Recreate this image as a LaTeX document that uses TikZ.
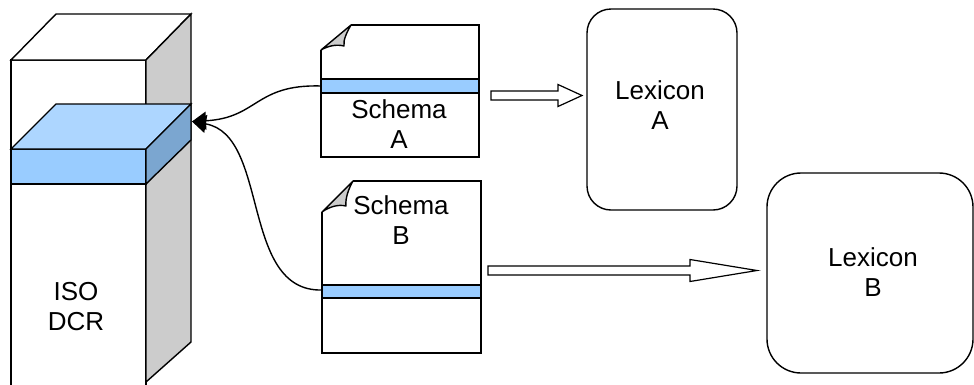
\documentclass[tikz,border=0pt]{standalone}
\usepackage{fontspec}
\setmainfont{Liberation Sans}
\usetikzlibrary{arrows.meta}
\definecolor{bandblue}{HTML}{99CCFF}
\definecolor{topblue}{HTML}{ADD6FF}
\definecolor{sideblue}{HTML}{7BA6D0}
\definecolor{sidegray}{HTML}{CCCCCC}
\begin{document}
\begin{tikzpicture}[x=1pt,y=-1pt,line width=1.4pt,line join=miter,
  lbl/.style={font=\fontsize{26}{30}\selectfont,align=center,inner sep=0pt},
  faceline/.style={draw=black,line width=1.4pt},
  conn/.style={draw=black,line width=1.4pt,-{Triangle[length=14pt,width=18pt]}},
  blockarrow/.style={draw=black,fill=white,line width=1.2pt},
  docbox/.style={inner sep=0pt,minimum width=158pt},
  lexbox/.style={draw=black,line width=1.4pt,inner sep=0pt}]
\useasboundingbox (0,0) rectangle (974,384);
\clip (0,0) rectangle (974,384);

% ---------- ISO DCR tower ----------
\draw[faceline,fill=white] (11,60) rectangle (146,392);
\draw[faceline,fill=white] (11,60) -- (56,14) -- (191,14) -- (146,60) -- cycle;
\draw[faceline,fill=sidegray] (146,60) -- (191,14) -- (191,342) -- (146,382) -- cycle;
% blue slab
\draw[faceline,fill=bandblue] (11,149) rectangle (146,184);
\draw[faceline,fill=topblue] (11,149) -- (56,104) -- (191,104) -- (146,149) -- cycle;
\draw[faceline,fill=sideblue] (146,149) -- (191,104) -- (191,140) -- (146,184) -- cycle;
\node[lbl] (dcr) at (76,307) {ISO\\DCR};
\coordinate (dcrin) at (192,121.5);

% ---------- Schema A ----------
\node[docbox,minimum height=132pt] (docA) at (400,91) {};
\draw[faceline,fill=white] (351,25) -- (479,25) -- (479,157) -- (321,157) -- (321,50);
\draw[faceline,fill=bandblue] (321,79) rectangle (479,93);
\draw[faceline,fill=sidegray,line join=round] (321,50) -- (351,25)
   .. controls (347,32) and (343,40) .. (344,46)
   .. controls (336,44) and (328,46) .. (321,50) -- cycle;
\node[lbl] (schA) at (399,124) {Schema\\A};
\coordinate (docAband) at (321,86);

% ---------- Schema B ----------
\node[docbox,minimum height=172pt] (docB) at (401,267) {};
\draw[faceline,fill=white] (353,181) -- (481,181) -- (481,353) -- (322,353) -- (322,212);
\draw[faceline,fill=bandblue] (322,285) rectangle (481,298);
\draw[faceline,fill=sidegray,line join=round] (322,212) -- (353,181)
   .. controls (349,188) and (345,198) .. (346,206)
   .. controls (338,204) and (329,207) .. (322,212) -- cycle;
\node[lbl] (schB) at (401,220) {Schema\\B};
\coordinate (docBband) at (322,290);

% ---------- Lexicons ----------
\node[lexbox,rounded corners=24pt,minimum width=150pt,minimum height=201pt] (lexA) at (662,109.5) {};
\node[lbl] (lexAt) at (660,105) {Lexicon\\A};
\node[lexbox,rounded corners=34pt,minimum width=206pt,minimum height=200pt] (lexB) at (870,273) {};
\node[lbl] (lexBt) at (873,272) {Lexicon\\B};

% ---------- block arrows ----------
\draw[blockarrow] (491,91) -- (558,91) -- (558,84.5) -- (582,95.5) -- (558,106.5)
   -- (558,100) -- (491,100) -- cycle;
\draw[blockarrow] (488,266) -- (690,266) -- (690,259.5) -- (757,270.5) -- (690,281.5)
   -- (690,275) -- (488,275) -- cycle;

% ---------- connectors ----------
\draw[conn] (docAband) .. controls (255,84) and (258,118) .. (dcrin);
\draw[conn] (docBband) .. controls (240,292) and (270,135) .. (dcrin);
\end{tikzpicture}
\end{document}
